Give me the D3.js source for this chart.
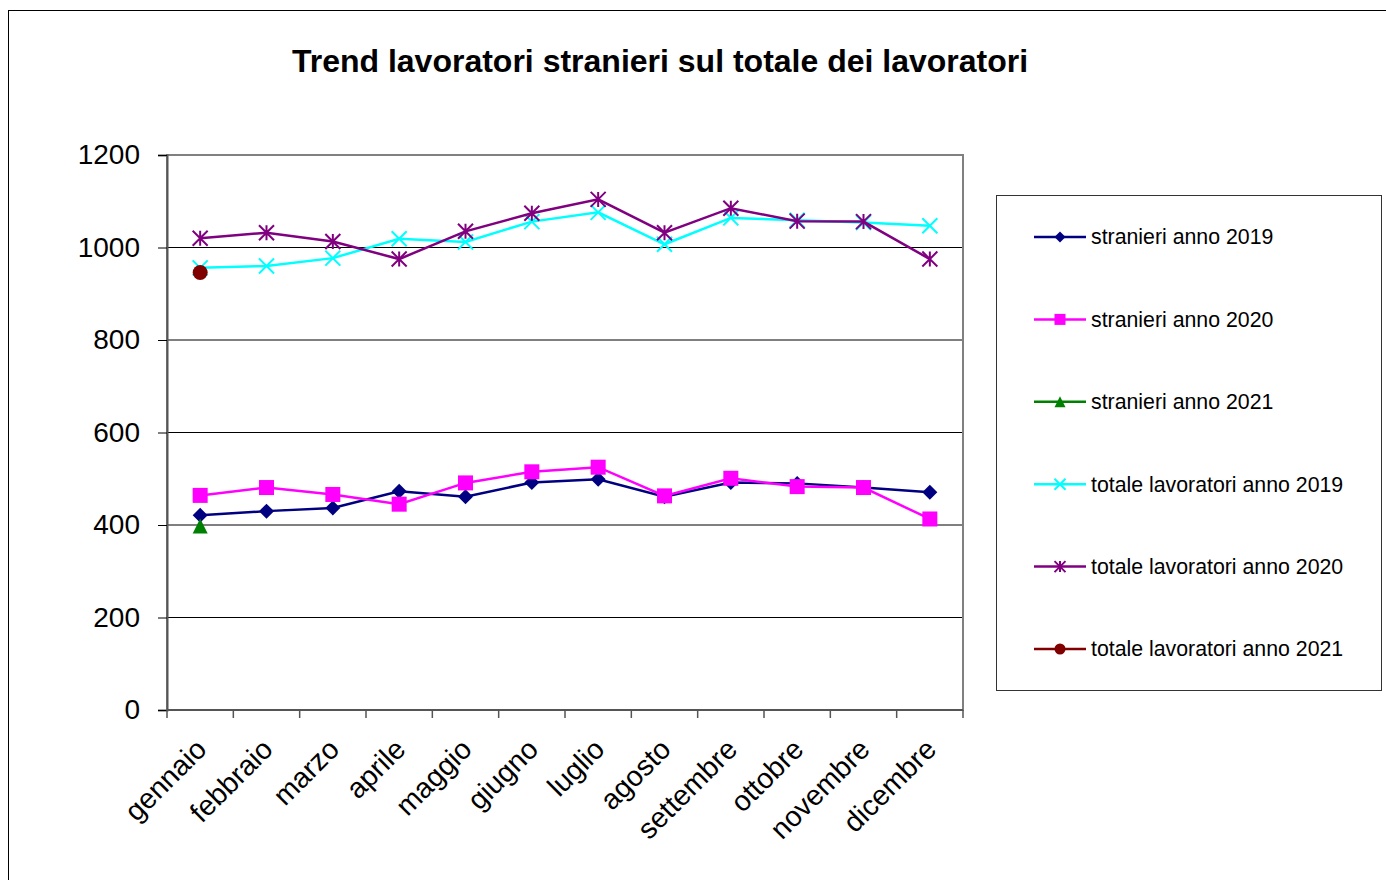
<!DOCTYPE html>
<html>
<head>
<meta charset="utf-8">
<script src="https://cdn.jsdelivr.net/npm/d3@7"></script>
<style>
  body { margin: 0; background: #fff; }
  text { font-family: "Liberation Sans", Arial, sans-serif; }
</style>
</head>
<body>
<svg id="chart" width="1386" height="880"></svg>
<script>
// chart data
var mesi = ['gennaio', 'febbraio', 'marzo', 'aprile', 'maggio', 'giugno',
  'luglio', 'agosto', 'settembre', 'ottobre', 'novembre', 'dicembre'];
var yTicks = [0, 200, 400, 600, 800, 1000, 1200];

var stranieri2019 = [421, 430, 437, 473, 461, 492, 499, 461, 492, 490, 481, 471];
var stranieri2020 = [464, 481, 466, 445, 491, 515, 525, 463, 501, 483, 481, 413];
var stranieri2021 = [398];
var totale2019 = [956, 960, 977, 1019, 1012, 1056, 1076, 1007, 1064, 1059, 1054, 1047];
var totale2020 = [1020, 1032, 1013, 975, 1035, 1074, 1104, 1032, 1085, 1057, 1056, 975];
var totale2021 = [946];

var series = [
  { name: 'stranieri anno 2019', values: stranieri2019, color: '#000080', marker: 'diamond' },
  { name: 'stranieri anno 2020', values: stranieri2020, color: '#ff00ff', marker: 'square' },
  { name: 'stranieri anno 2021', values: stranieri2021, color: '#008000', marker: 'triangle' },
  { name: 'totale lavoratori anno 2019', values: totale2019, color: '#00ffff', marker: 'cross' },
  { name: 'totale lavoratori anno 2020', values: totale2020, color: '#800080', marker: 'star' },
  { name: 'totale lavoratori anno 2021', values: totale2021, color: '#800000', marker: 'circle' }
];

var svg = d3.select('#chart');

// outer frame
svg.append('rect')
  .attr('x', 8.5).attr('y', 10.5)
  .attr('width', 1400).attr('height', 900)
  .attr('fill', 'none').attr('stroke', '#000').attr('stroke-width', 1);

svg.append('text')
  .attr('x', 660).attr('y', 72)
  .attr('text-anchor', 'middle')
  .attr('font-size', 32).attr('font-weight', 'bold')
  .text('Trend lavoratori stranieri sul totale dei lavoratori');

var pLeft = 167, pRight = 963, pTop = 155, pBottom = 710;

var x = d3.scaleBand().domain(mesi).range([pLeft, pRight]);
var y = d3.scaleLinear().domain([0, 1200]).range([pBottom, pTop]);

// gridlines
svg.append('g')
  .selectAll('line')
  .data(yTicks.filter(function(d){ return d > 0 && d < 1200; }))
  .enter().append('line')
    .attr('x1', pLeft).attr('x2', pRight)
    .attr('y1', function(d){ return y(d); })
    .attr('y2', function(d){ return y(d); })
    .attr('stroke', '#000').attr('stroke-width', 1);

// plot border
svg.append('rect')
  .attr('x', pLeft).attr('y', pTop)
  .attr('width', pRight - pLeft).attr('height', pBottom - pTop)
  .attr('fill', 'none').attr('stroke', '#808080').attr('stroke-width', 2);

// y axis
var yAxis = svg.append('g')
  .attr('transform', 'translate(' + pLeft + ',0)')
  .call(d3.axisLeft(y).tickValues(yTicks).tickFormat(d3.format('d')).tickSize(9).tickPadding(18));
yAxis.select('.domain').attr('stroke', '#555').attr('stroke-width', 2);
yAxis.selectAll('.tick line').attr('stroke', '#000');
yAxis.selectAll('text').attr('font-size', 28).attr('fill', '#000')
  .attr('font-family', '"Liberation Sans", Arial, sans-serif');

// x axis (ticks between categories)
var xAxis = svg.append('g')
  .attr('transform', 'translate(0,' + pBottom + ')');
xAxis.append('line')
  .attr('x1', pLeft).attr('x2', pRight)
  .attr('stroke', '#555').attr('stroke-width', 2);
xAxis.selectAll('line.tk')
  .data(d3.range(mesi.length + 1))
  .enter().append('line')
    .attr('class', 'tk')
    .attr('x1', function(i){ return pLeft + i * x.bandwidth(); })
    .attr('x2', function(i){ return pLeft + i * x.bandwidth(); })
    .attr('y1', 0).attr('y2', 8)
    .attr('stroke', '#555').attr('stroke-width', 1.5);
xAxis.selectAll('text')
  .data(mesi)
  .enter().append('text')
    .attr('text-anchor', 'end')
    .attr('font-size', 28.5)
    .attr('transform', function(d){
      return 'translate(' + (x(d) + x.bandwidth() / 2 + 1) + ',34) rotate(-45)';
    })
    .attr('dy', '0.35em')
    .text(function(d){ return d; });

function cx(i) { return x(mesi[i]) + x.bandwidth() / 2; }

function drawMarker(g, type, color, s) {
  var h = s / 2;
  if (type === 'diamond') {
    g.append('path').attr('d', 'M0,' + (-h) + 'L' + h + ',0L0,' + h + 'L' + (-h) + ',0Z').attr('fill', color);
  } else if (type === 'square') {
    g.append('rect').attr('x', -h).attr('y', -h).attr('width', s).attr('height', s).attr('fill', color);
  } else if (type === 'triangle') {
    g.append('path').attr('d', 'M0,' + (-h) + 'L' + h + ',' + h + 'L' + (-h) + ',' + h + 'Z').attr('fill', color);
  } else if (type === 'cross') {
    g.append('path').attr('d', 'M' + (-h) + ',' + (-h) + 'L' + h + ',' + h + 'M' + h + ',' + (-h) + 'L' + (-h) + ',' + h)
      .attr('stroke', color).attr('stroke-width', 2);
  } else if (type === 'star') {
    g.append('path').attr('d', 'M' + (-h) + ',' + (-h) + 'L' + h + ',' + h + 'M' + h + ',' + (-h) + 'L' + (-h) + ',' + h +
      'M0,' + (-h) + 'L0,' + h)
      .attr('stroke', color).attr('stroke-width', 2);
  } else if (type === 'circle') {
    g.append('circle').attr('r', h).attr('fill', color);
  }
}

var line = d3.line()
  .x(function(d, i){ return cx(i); })
  .y(function(d){ return y(d); });

series.forEach(function(s) {
  var g = svg.append('g');
  if (s.values.length > 1) {
    g.append('path')
      .datum(s.values)
      .attr('d', line)
      .attr('fill', 'none')
      .attr('stroke', s.color)
      .attr('stroke-width', 2.5);
  }
  s.values.forEach(function(v, i) {
    var m = g.append('g').attr('transform', 'translate(' + cx(i) + ',' + y(v) + ')');
    drawMarker(m, s.marker, s.color, 15);
  });
});

// legend
var legend = svg.append('g');
legend.append('rect')
  .attr('x', 996.5).attr('y', 195.5)
  .attr('width', 385).attr('height', 495)
  .attr('fill', '#fff').attr('stroke', '#333').attr('stroke-width', 1);

var ly = d3.scalePoint().domain(series.map(function(s){ return s.name; }))
  .range([237, 649]);

series.forEach(function(s) {
  var row = legend.append('g').attr('transform', 'translate(0,' + ly(s.name) + ')');
  row.append('line')
    .attr('x1', 1034).attr('x2', 1086)
    .attr('stroke', s.color).attr('stroke-width', 2.5);
  var m = row.append('g').attr('transform', 'translate(1060,0)');
  drawMarker(m, s.marker, s.color, 11);
  row.append('text')
    .attr('x', 1091).attr('dy', '0.35em')
    .attr('font-size', 21.3)
    .text(s.name);
});
</script>
</body>
</html>
